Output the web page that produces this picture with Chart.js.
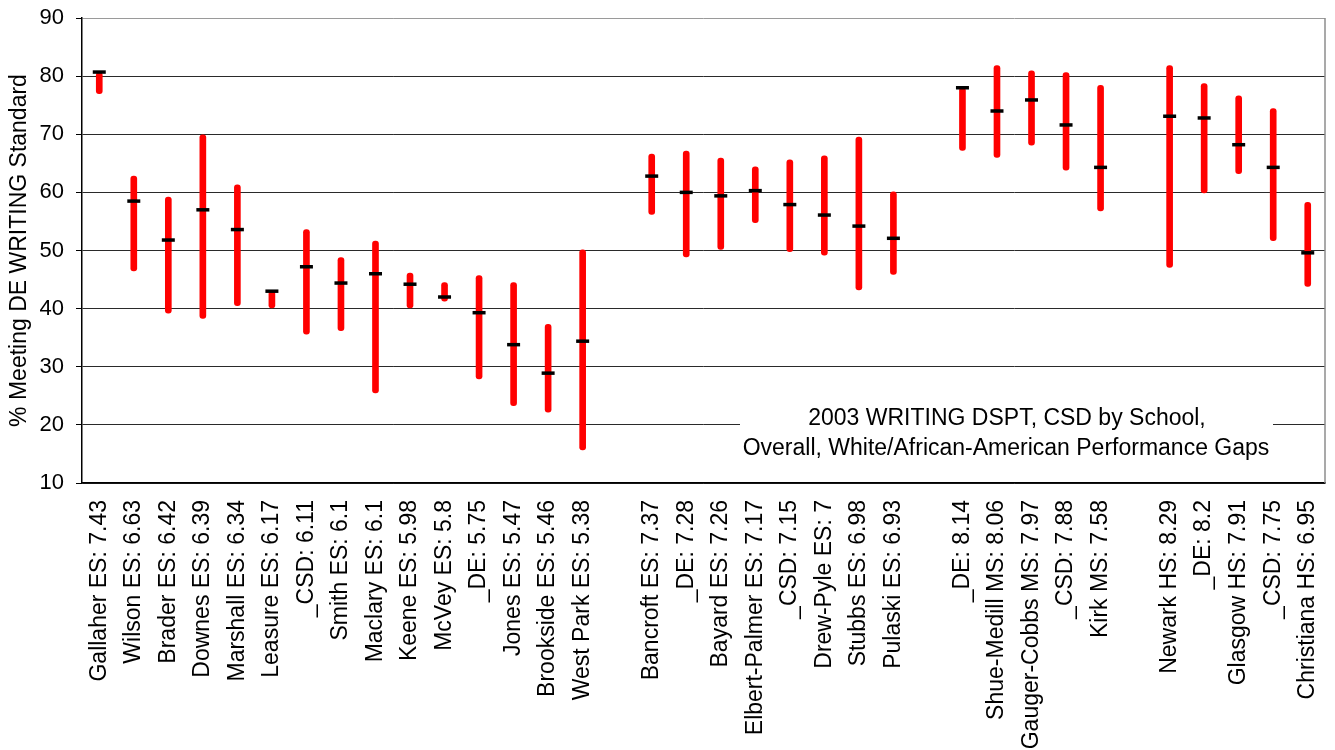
<!DOCTYPE html>
<html>
<head>
<meta charset="utf-8">
<script src="https://cdn.jsdelivr.net/npm/chart.js@4.4.1/dist/chart.umd.min.js"></script>
<style>
  html, body { margin: 0; padding: 0; background: #fff; }
  #wrap { width: 1335px; height: 750px; }
</style>
</head>
<body>
<div id="wrap"><canvas id="c" width="1335" height="750"></canvas></div>
<script>
const categories = [
  "Gallaher ES: 7.43","Wilson ES: 6.63","Brader ES: 6.42","Downes ES: 6.39","Marshall ES: 6.34",
  "Leasure ES: 6.17","_CSD: 6.11","Smith ES: 6.1","Maclary ES: 6.1","Keene ES: 5.98",
  "McVey ES: 5.8","_DE: 5.75","Jones ES: 5.47","Brookside ES: 5.46","West Park ES: 5.38",
  " ",
  "Bancroft ES: 7.37","_DE: 7.28","Bayard ES: 7.26","Elbert-Palmer ES: 7.17","_CSD: 7.15",
  "Drew-Pyle ES: 7","Stubbs ES: 6.98","Pulaski ES: 6.93",
  "  ",
  "_DE: 8.14","Shue-Medill MS: 8.06","Gauger-Cobbs MS: 7.97","_CSD: 7.88","Kirk MS: 7.58",
  "   ",
  "Newark HS: 8.29","_DE: 8.2","Glasgow HS: 7.91","_CSD: 7.75","Christiana HS: 6.95"
];
const highValues = [80.6, 62.8, 59.2, 69.9, 61.3, 43.0, 53.6, 48.8, 51.6, 46.1, 44.5, 45.7, 44.5, 37.3, 50.1,
  null, 66.6, 67.1, 65.9, 64.4, 65.6, 66.3, 69.5, 60.1,
  null, 78.0, 81.8, 80.9, 80.6, 78.4,
  null, 81.8, 78.7, 76.6, 74.4, 58.3];
const lowValues = [77.0, 46.5, 39.2, 38.3, 40.5, 40.1, 35.6, 36.2, 25.5, 40.1, 41.3, 27.9, 23.3, 22.2, 15.7,
  null, 56.2, 48.9, 50.2, 54.8, 49.8, 49.2, 43.2, 45.9,
  null, 67.2, 66.0, 68.1, 63.8, 56.8,
  null, 47.1, 59.9, 63.2, 51.7, 43.8];
const overallValues = [80.7, 58.5, 51.8, 57.0, 53.6, 43.0, 47.2, 44.4, 46.0, 44.2, 42.0, 39.3, 33.8, 28.9, 34.4,
  null, 62.8, 60.0, 59.4, 60.3, 57.9, 56.1, 54.2, 52.1,
  null, 78.0, 74.0, 75.9, 71.6, 64.3,
  null, 73.1, 72.8, 68.2, 64.3, 49.6];
const yTicks = [10, 20, 30, 40, 50, 60, 70, 80, 90];
const yTitle = "% Meeting DE WRITING Standard";
const noteLines = ["2003 WRITING DSPT, CSD by School,", "Overall, White/African-American Performance Gaps"];

const FONT = "'Liberation Sans', Arial, sans-serif";
const gapData = lowValues.map((l, i) => (l == null ? null : [l, highValues[i]]));

function noPad(s) { s.paddingLeft = 0; s.paddingRight = 0; s.paddingTop = 0; s.paddingBottom = 0; }

const notePlugin = {
  id: 'note',
  afterDatasetsDraw(chart) {
    const ctx = chart.ctx;
    ctx.save();
    ctx.fillStyle = '#fff';
    ctx.fillRect(740, 396, 533, 70);
    ctx.fillStyle = '#000';
    ctx.font = "23px " + FONT;
    ctx.textAlign = 'center';
    ctx.textBaseline = 'alphabetic';
    ctx.fillText(noteLines[0], 1007, 425);
    ctx.fillText(noteLines[1], 1006, 455);
    ctx.restore();
  },
  afterDraw(chart) {
    const a = chart.chartArea;
    const ctx = chart.ctx;
    ctx.save();
    ctx.strokeStyle = '#8c8c8c';
    ctx.lineWidth = 1.5;
    ctx.beginPath();
    ctx.moveTo(a.right, a.top);
    ctx.lineTo(a.right, a.bottom);
    ctx.stroke();
    ctx.restore();
  }
};

new Chart(document.getElementById('c'), {
  type: 'bar',
  data: {
    labels: categories,
    datasets: [
      {
        type: 'line',
        label: 'Overall',
        data: overallValues,
        showLine: false,
        pointStyle: 'line',
        pointRadius: 6.5,
        pointHoverRadius: 6.5,
        pointBorderWidth: 3.5,
        borderColor: '#000',
        backgroundColor: '#000',
        order: 0
      },
      {
        type: 'bar',
        label: 'Gap',
        data: gapData,
        backgroundColor: '#ff0000',
        borderWidth: 0,
        borderRadius: 3,
        borderSkipped: false,
        barThickness: 6,
        order: 1
      }
    ]
  },
  options: {
    responsive: false,
    animation: false,
    devicePixelRatio: 1,
    plugins: { legend: { display: false }, tooltip: { enabled: false } },
    layout: { padding: { top: 18, right: 5, left: 0, bottom: 0 } },
    scales: {
      x: {
        grid: { display: false, drawTicks: false },
        border: { display: true, color: '#000', width: 1.5 },
        ticks: {
          autoSkip: false, maxRotation: 90, minRotation: 90,
          padding: 17, color: '#000',
          font: { family: FONT, size: 23 }
        },
        afterFit(s) { s.height = 267; noPad(s); }
      },
      y: {
        min: 10, max: 90,
        afterBuildTicks(s) { s.ticks = yTicks.map(v => ({ value: v })); },
        grid: {
          color: (c) => (c.tick && c.tick.value === 90 ? '#9a9a9a' : '#2a2a2a'),
          tickColor: '#000',
          tickLength: 6,
          lineWidth: 1
        },
        border: { display: true, color: '#000', width: 1.5 },
        ticks: { padding: 12, color: '#000', font: { family: FONT, size: 22 } },
        title: {
          display: true, text: yTitle, color: '#000',
          font: { family: FONT, size: 23 },
          padding: { top: 6, bottom: 0 }
        },
        afterFit(s) { s.width = 82; noPad(s); }
      }
    }
  },
  plugins: [notePlugin]
});
</script>
</body>
</html>
